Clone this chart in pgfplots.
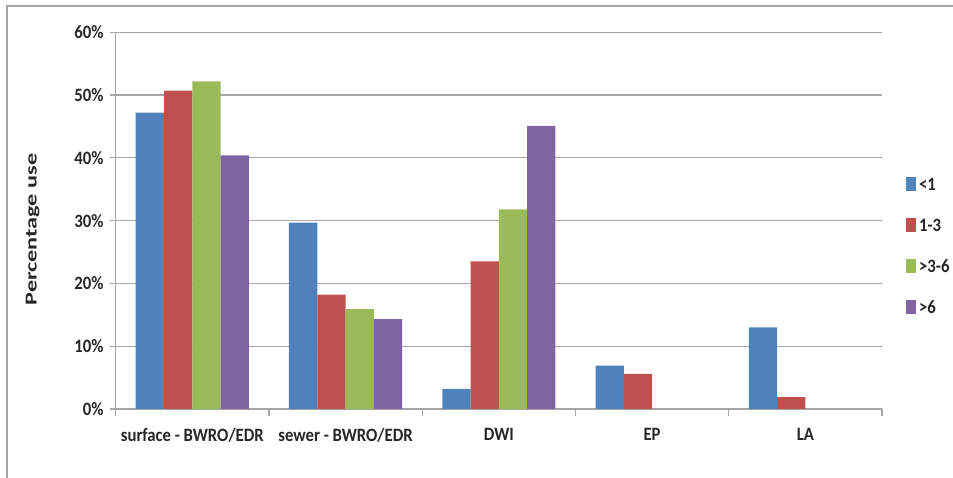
\documentclass[border=0pt]{standalone}
\usepackage{pgfplots}
\pgfplotsset{compat=1.18}
\usepackage{fontspec}
\setmainfont{Carlito}

\definecolor{sBlue}{HTML}{4F81BD}
\definecolor{sRed}{HTML}{C0504D}
\definecolor{sGreen}{HTML}{9BBB59}
\definecolor{sPurple}{HTML}{8064A2}
\definecolor{gridgray}{RGB}{165,165,165}

% slightly tall lettering for labels
\newcommand{\tall}[1]{\scalebox{1}[1.13]{#1}}

\begin{document}
\begin{tikzpicture}
\begin{axis}[
  at={(2.314cm,1.38cm)}, anchor=south west,
  scale only axis, width=15.326cm, height=7.534cm,
  ybar=0pt, bar width=0.566cm,
  xmin=-0.5, xmax=4.5, ymin=0, ymax=60,
  xtick={0,1,2,3,4},
  xticklabels={\tall{surface - BWRO/EDR}, \tall{sewer - BWRO/EDR}, \tall{DWI}, \tall{EP}, \tall{LA}},
  minor xtick={-0.5,0.5,1.5,2.5,3.5,4.5},
  ytick={0,10,...,60},
  yticklabel={\tall{\pgfmathprintnumber{\tick}\%}},
  /pgf/number format/assume math mode=true,
  tick align=outside,
  tick style={gridgray, line width=0.7pt},
  major tick length=0.12cm,
  minor tick length=0.14cm,
  major x tick style={draw=none},
  axis x line*=bottom, axis y line*=left,
  axis line style={gridgray, line width=0.7pt, -},
  ymajorgrids, grid style={gridgray, line width=0.7pt},
  tick label style={font=\fontsize{9.5}{11}\selectfont\bfseries, text=black!85},
  xticklabel style={yshift=-4pt},
  ylabel={\scalebox{1.45}[1]{Percentage use}},
  ylabel style={at={(axis description cs:-0.1083,0.4765)}, anchor=center,
    font=\fontsize{9.5}{11}\selectfont\bfseries, text=black!85},
  legend style={at={(axis description cs:1.031,0.4297)}, anchor=west,
    draw=none, fill=none, inner sep=0pt,
    font=\fontsize{9.5}{11}\selectfont\bfseries, text=black!85,
    row sep=10.6pt, cells={anchor=west}},
  legend image code/.code={\fill[#1] (0cm,-0.11cm) rectangle (0.19cm,0.17cm);},
]
\addplot[fill=sBlue, draw=none] coordinates {(0,47.2) (1,29.7) (2,3.2) (3,6.9) (4,13.0)};
\addplot[fill=sRed, draw=none] coordinates {(0,50.7) (1,18.2) (2,23.5) (3,5.6) (4,1.9)};
\addplot[fill=sGreen, draw=none] coordinates {(0,52.2) (1,15.9) (2,31.8)};
\addplot[fill=sPurple, draw=none] coordinates {(0,40.4) (1,14.3) (2,45.1)};
\legend{\tall{<1}, \tall{1-3}, \tall{>3-6}, \tall{>6}}
\end{axis}
\draw[gridgray, line width=1pt] (0.146,0) -- (0.146,9.446) -- (19.06,9.446);
\pgfresetboundingbox
\useasboundingbox (0,0) rectangle (19.06,9.56);
\end{tikzpicture}
\end{document}
